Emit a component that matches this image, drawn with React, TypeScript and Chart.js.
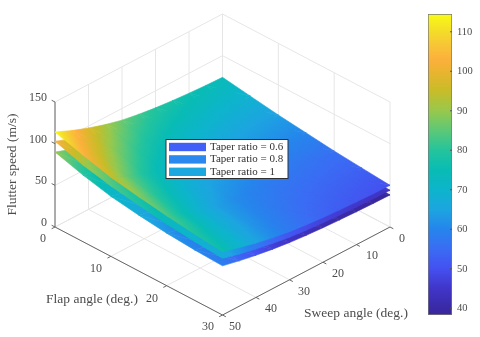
import React, { useEffect, useRef } from "react";
import { Chart, registerables } from "chart.js";

Chart.register(...registerables);

const flapAngles = [0, 5, 10, 15, 20, 25, 30];
const sweepAngles = [0, 5, 10, 15, 20, 25, 30, 35, 40, 45, 50];

// rows: flap angle, columns: sweep angle
const speedTaper10 = [
  [74, 74.8, 76, 77.6, 79.6, 82.4, 86, 91.2, 97.6, 105.2, 114],
  [69, 69.5, 70.2, 71.3, 72.7, 74.8, 77.8, 82.1, 87.9, 95.3, 104],
  [64, 64.3, 64.8, 65.6, 66.5, 67.9, 69.9, 73.3, 78.6, 85.7, 95],
  [60, 60.3, 60.7, 61.5, 62.3, 63.6, 65.5, 68.7, 73.6, 80.3, 89],
  [56, 56.3, 56.7, 57.4, 58.2, 59.5, 61.3, 64.4, 69.2, 75.6, 84],
  [53, 53.4, 53.9, 54.7, 55.8, 57.4, 59.7, 63, 67.4, 73, 79.6],
  [50, 50.5, 51.3, 52.3, 53.6, 55.5, 57.8, 61.2, 65.3, 70.3, 76],
];
const speedTaper08 = [
  [65, 65.8, 66.9, 68.4, 70.3, 73, 76.4, 81.3, 87.4, 94.6, 103],
  [61.5, 62.1, 63, 64.2, 65.8, 67.9, 70.7, 74.6, 79.5, 85.3, 92],
  [57.5, 58, 58.9, 59.9, 61.3, 63.2, 65.6, 69.1, 73.4, 78.6, 84.5],
  [53.5, 54, 54.8, 55.8, 57.1, 58.9, 61.2, 64.5, 68.5, 73.4, 79],
  [50, 50.5, 51.2, 52.2, 53.4, 55, 57.2, 60.3, 64.2, 68.7, 74],
  [47, 47.5, 48.2, 49.1, 50.3, 51.9, 54, 57.1, 60.9, 65.3, 70.5],
  [44, 44.5, 45.2, 46.2, 47.4, 49, 51.2, 54.3, 58.2, 62.7, 68],
];
const speedTaper06 = [
  [57, 57.7, 58.7, 60, 61.6, 63.9, 66.9, 71.2, 76.5, 82.7, 90],
  [54, 54.5, 55.3, 56.3, 57.6, 59.5, 61.8, 65.2, 69.3, 74.3, 80],
  [50, 50.4, 51.1, 52, 53.1, 54.6, 56.6, 59.5, 63, 67.2, 72],
  [47, 47.4, 48, 48.8, 49.8, 51.2, 53, 55.6, 58.8, 62.6, 67],
  [44, 44.4, 45, 45.7, 46.7, 48, 49.7, 52.2, 55.2, 58.8, 63],
  [41, 41.4, 42, 42.8, 43.7, 45.1, 46.9, 49.4, 52.5, 56.2, 60.5],
  [38.5, 38.9, 39.5, 40.3, 41.4, 42.8, 44.7, 47.3, 50.6, 54.5, 59],
];

const legendLabels = ["Taper ratio = 0.6", "Taper ratio = 0.8", "Taper ratio = 1"];
const legendColors = ["#4060f8", "#2a88ee", "#1ba8e0"];

const flapTicks = [0, 10, 20, 30];
const sweepTicks = [0, 10, 20, 30, 40, 50];
const speedTicks = [0, 50, 100, 150];
const colorbarTicks = [40, 50, 60, 70, 80, 90, 100, 110];
const colorMin = 38.3;
const colorMax = 114.5;

const colormapValues = [38.3, 45, 50, 55, 60, 65, 70, 75, 80, 85, 90, 95, 100, 103, 107, 110, 114.5];
const colormapColors = [
  "#38269a", "#4035c8", "#4450f0", "#3a6cf4", "#2585ec", "#1ca5e0", "#0db4cc", "#08bcb4", "#24c49c",
  "#5cc878", "#98c84c", "#c8bc28", "#eab430", "#fcb03c", "#f7c835", "#f4dc28", "#f8fb14",
];

const FONT = '"Liberation Serif", serif';
const TEXT = "#4c4c4c";

// view of the 3-D box on the page
function project(f: number, s: number, z: number) {
  return {
    x: 222.5 - (167.5 * s) / 50 + (167.5 * f) / 30,
    y: 139 + (88 * s) / 50 + (88 * f) / 30 - (125 * z) / 150,
  };
}

function hex(c: string) {
  return [parseInt(c.slice(1, 3), 16), parseInt(c.slice(3, 5), 16), parseInt(c.slice(5, 7), 16)];
}

function colorAt(z: number) {
  const v = colormapValues;
  if (z <= v[0]) return colormapColors[0];
  if (z >= v[v.length - 1]) return colormapColors[v.length - 1];
  let i = 0;
  while (z > v[i + 1]) i++;
  const t = (z - v[i]) / (v[i + 1] - v[i]);
  const a = hex(colormapColors[i]);
  const b = hex(colormapColors[i + 1]);
  return `rgb(${a.map((q, k) => Math.round(q + (b[k] - q) * t)).join(",")})`;
}

function surfacePoints(table: number[][]) {
  const pts: any[] = [];
  flapAngles.forEach((f, i) =>
    sweepAngles.forEach((s, j) => {
      pts.push({ ...project(f, s, table[i][j]), z: table[i][j] });
    })
  );
  return pts;
}

function polyline(list: { f: number; s: number; z: number }[][]) {
  const out: any[] = [];
  list.forEach((seg) => {
    seg.forEach((p) => out.push(project(p.f, p.s, p.z)));
    out.push({ x: NaN, y: NaN });
  });
  return out;
}

const gridSegments = [
  ...flapTicks.map((f) => [{ f, s: 0, z: 0 }, { f, s: 50, z: 0 }]),
  ...sweepTicks.map((s) => [{ f: 0, s, z: 0 }, { f: 30, s, z: 0 }]),
  ...flapTicks.map((f) => [{ f, s: 0, z: 0 }, { f, s: 0, z: 150 }]),
  ...sweepTicks.map((s) => [{ f: 0, s, z: 0 }, { f: 0, s, z: 150 }]),
  ...speedTicks.map((z) => [{ f: 0, s: 0, z }, { f: 30, s: 0, z }]),
  ...speedTicks.map((z) => [{ f: 0, s: 0, z }, { f: 0, s: 50, z }]),
];

const axisSegments = [
  [{ f: 0, s: 50, z: 0 }, { f: 0, s: 50, z: 150 }],
  [{ f: 0, s: 50, z: 0 }, { f: 30, s: 50, z: 0 }],
  [{ f: 30, s: 50, z: 0 }, { f: 30, s: 0, z: 0 }],
  ...speedTicks.map((z) => [{ f: 0, s: 50, z }, { f: -0.6, s: 50, z }]),
  ...flapTicks.map((f) => [{ f, s: 50, z: 0 }, { f, s: 51, z: 0 }]),
  ...sweepTicks.map((s) => [{ f: 30, s, z: 0 }, { f: 30.6, s, z: 0 }]),
];

const tickTexts: [string, number, number, CanvasTextAlign][] = [
  ["150", 47, 98, "right"], ["100", 47, 140, "right"], ["50", 47, 181, "right"], ["0", 47, 223, "right"],
  ["0", 43, 239, "center"], ["10", 96, 269, "center"], ["20", 152, 299, "center"], ["30", 208, 327, "center"],
  ["0", 402, 239, "center"], ["10", 372, 256, "center"], ["20", 338, 274, "center"], ["30", 304, 292, "center"],
  ["40", 271, 309, "center"], ["50", 235, 327, "center"],
];

const surfacePlugin = {
  id: "surface",
  afterDatasetsDraw(chart: any) {
    const { ctx } = chart;
    const nRow = flapAngles.length;
    const nCol = sweepAngles.length;
    [0, 1, 2].forEach((d) => {
      const pts = chart.getDatasetMeta(d).data;
      const raw = chart.data.datasets[d].data;
      const at = (i: number, j: number) => {
        const k = i * nCol + j;
        return { x: pts[k].x, y: pts[k].y, z: raw[k].z };
      };
      const tri = (a: any, b: any, c: any) => {
        const dx1 = b.x - a.x, dy1 = b.y - a.y, dz1 = b.z - a.z;
        const dx2 = c.x - a.x, dy2 = c.y - a.y, dz2 = c.z - a.z;
        const det = dx1 * dy2 - dx2 * dy1;
        const gx = (dz1 * dy2 - dz2 * dy1) / det;
        const gy = (dx1 * dz2 - dx2 * dz1) / det;
        const sorted = [a, b, c].sort((p, q) => p.z - q.z);
        const lo = sorted[0].z, hi = sorted[2].z;
        const n2 = gx * gx + gy * gy;
        let paint: any = colorAt(lo);
        if (hi - lo > 1e-6 && n2 > 0 && isFinite(n2)) {
          const g = ctx.createLinearGradient(
            sorted[0].x, sorted[0].y,
            sorted[0].x + (gx * (hi - lo)) / n2, sorted[0].y + (gy * (hi - lo)) / n2
          );
          g.addColorStop(0, colorAt(lo));
          colormapValues.forEach((v) => {
            if (v > lo && v < hi) g.addColorStop((v - lo) / (hi - lo), colorAt(v));
          });
          g.addColorStop(1, colorAt(hi));
          paint = g;
        }
        ctx.beginPath();
        ctx.moveTo(a.x, a.y);
        ctx.lineTo(b.x, b.y);
        ctx.lineTo(c.x, c.y);
        ctx.closePath();
        ctx.fillStyle = paint;
        ctx.strokeStyle = paint;
        ctx.lineWidth = 0.6;
        ctx.fill();
        ctx.stroke();
      };
      for (let i = 0; i < nRow - 1; i++) {
        for (let j = 0; j < nCol - 1; j++) {
          tri(at(i, j), at(i + 1, j), at(i, j + 1));
          tri(at(i + 1, j), at(i + 1, j + 1), at(i, j + 1));
        }
      }
    });
  },
  afterDraw(chart: any) {
    const { ctx } = chart;
    ctx.save();
    ctx.fillStyle = TEXT;
    ctx.textBaseline = "middle";
    ctx.font = `12px ${FONT}`;
    tickTexts.forEach(([t, x, y, a]) => {
      ctx.textAlign = a;
      ctx.fillText(t, x, y);
    });
    ctx.font = `13.5px ${FONT}`;
    ctx.textAlign = "center";
    ctx.fillText("Flap angle (deg.)", 92, 299);
    ctx.fillText("Sweep angle (deg.)", 356, 313);
    ctx.save();
    ctx.translate(12, 164.5);
    ctx.rotate(-Math.PI / 2);
    ctx.fillText("Flutter speed (m/s)", 0, 0);
    ctx.restore();

    // legend
    ctx.fillStyle = "#ffffff";
    ctx.fillRect(166, 139.5, 122, 39);
    ctx.strokeStyle = "#303030";
    ctx.lineWidth = 1;
    ctx.strokeRect(166, 139.5, 122, 39);
    ctx.font = `11px ${FONT}`;
    ctx.textAlign = "left";
    legendLabels.forEach((label, i) => {
      const y = 147 + i * 12.4;
      ctx.fillStyle = legendColors[i];
      ctx.fillRect(169, y - 4.2, 37, 8.4);
      ctx.fillStyle = "#333333";
      ctx.fillText(label, 210, y);
    });
    ctx.restore();
  },
};

const colorbarPlugin = {
  id: "colorbarTicks",
  afterDraw(chart: any) {
    const { ctx, chartArea, scales } = chart;
    ctx.save();
    ctx.strokeStyle = "#555555";
    ctx.lineWidth = 1;
    colorbarTicks.forEach((v) => {
      const y = scales.y.getPixelForValue(v);
      ctx.beginPath();
      ctx.moveTo(chartArea.right, y);
      ctx.lineTo(chartArea.right - 2, y);
      ctx.stroke();
    });
    ctx.restore();
  },
};

export default function App() {
  const mainRef = useRef<HTMLCanvasElement>(null);
  const barRef = useRef<HTMLCanvasElement>(null);

  useEffect(() => {
    document.body.style.margin = "0";
    const main = new Chart(mainRef.current as HTMLCanvasElement, {
      type: "scatter",
      data: {
        datasets: [
          { label: legendLabels[0], data: surfacePoints(speedTaper06), pointRadius: 0, showLine: false },
          { label: legendLabels[1], data: surfacePoints(speedTaper08), pointRadius: 0, showLine: false },
          { label: legendLabels[2], data: surfacePoints(speedTaper10), pointRadius: 0, showLine: false },
          {
            label: "axes", data: polyline(axisSegments), showLine: true, pointRadius: 0,
            borderColor: "#666666", borderWidth: 1, spanGaps: false, order: -1,
          },
          {
            label: "grid", data: polyline(gridSegments), showLine: true, pointRadius: 0,
            borderColor: "#e6e6e6", borderWidth: 1, spanGaps: false,
          },
        ],
      } as any,
      options: {
        responsive: false,
        animation: false,
        layout: { padding: 0 },
        plugins: { legend: { display: false }, tooltip: { enabled: false } },
        scales: {
          x: { type: "linear", min: 0, max: 480, display: false },
          y: { type: "linear", min: 0, max: 337, reverse: true, display: false },
        },
      },
      plugins: [surfacePlugin],
    } as any);

    const bar = new Chart(barRef.current as HTMLCanvasElement, {
      type: "bar",
      data: {
        labels: ["speed"],
        datasets: [
          {
            data: [[colorMin, colorMax]],
            barPercentage: 1,
            categoryPercentage: 1,
            borderColor: "#777777",
            borderWidth: 1,
            borderSkipped: false,
            backgroundColor: (c: any) => {
              const { ctx, scales } = c.chart;
              const top = scales.y ? scales.y.getPixelForValue(colorMax) : NaN;
              const bottom = scales.y ? scales.y.getPixelForValue(colorMin) : NaN;
              if (!isFinite(top) || !isFinite(bottom)) return "#888888";
              const g = ctx.createLinearGradient(0, bottom, 0, top);
              colormapValues.forEach((v, i) =>
                g.addColorStop((v - colorMin) / (colorMax - colorMin), colormapColors[i])
              );
              return g;
            },
          },
        ],
      } as any,
      options: {
        responsive: false,
        animation: false,
        layout: { padding: { left: 8, right: 0, top: 14, bottom: 22 } },
        plugins: { legend: { display: false }, tooltip: { enabled: false } },
        scales: {
          x: { display: false },
          y: {
            position: "right",
            min: colorMin,
            max: colorMax,
            border: { display: false },
            grid: { drawOnChartArea: false, drawTicks: false },
            afterBuildTicks: (s: any) => {
              s.ticks = colorbarTicks.map((value) => ({ value }));
            },
            afterFit: (s: any) => {
              s.width = 28;
            },
            ticks: {
              padding: 5,
              color: TEXT,
              font: { family: "Liberation Serif", size: 10.5 },
            },
          },
        },
      },
      plugins: [colorbarPlugin],
    } as any);

    return () => {
      main.destroy();
      bar.destroy();
    };
  }, []);

  const blur = "blur(0.5px)";
  return (
    <div style={{ position: "relative", width: 480, height: 337, background: "#fff" }}>
      <canvas ref={mainRef} width={480} height={337} style={{ position: "absolute", left: 0, top: 0, filter: blur }} />
      <canvas ref={barRef} width={60} height={337} style={{ position: "absolute", left: 420, top: 0, filter: blur }} />
    </div>
  );
}
